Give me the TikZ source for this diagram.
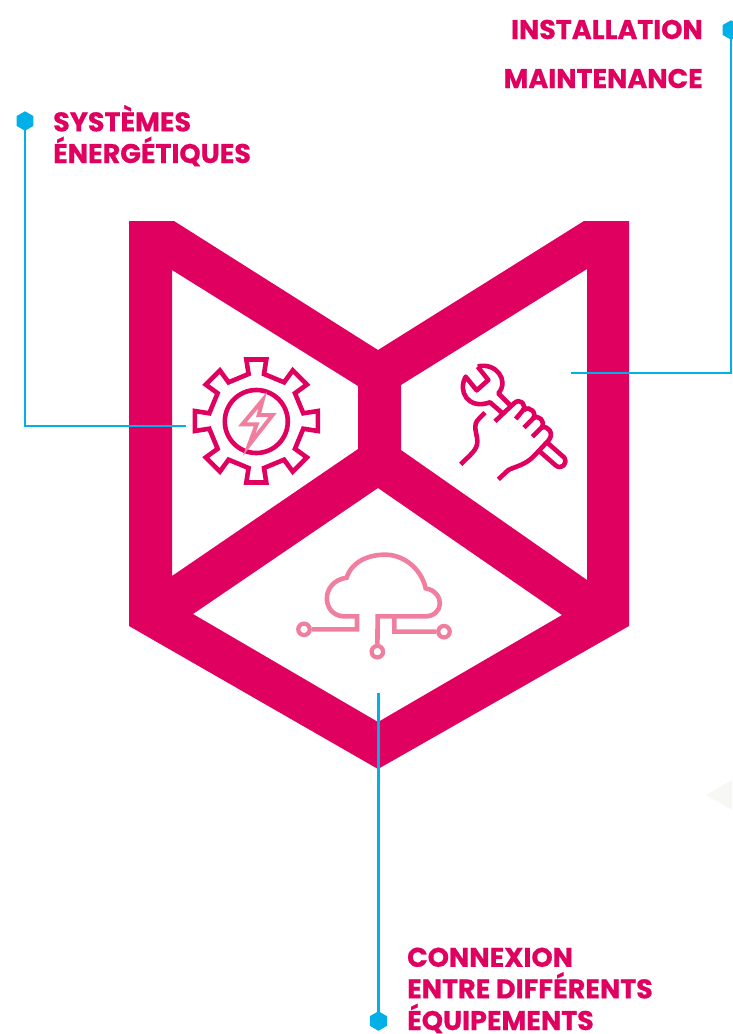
\documentclass[tikz,border=0pt]{standalone}
\usepackage{fontspec}
\setmainfont{Poppins}[BoldFont={Poppins Bold},BoldFeatures={FakeBold=0.6}]
\usetikzlibrary{shapes.geometric}
\definecolor{pinkmain}{HTML}{E0005F}
\definecolor{pinklight}{HTML}{F07F9F}
\definecolor{cyanline}{HTML}{00B0E6}
\definecolor{greytri}{HTML}{F7F7F3}
\tikzset{
  lbl/.style={inner sep=0pt,text=pinkmain,font=\fontsize{27}{31.6}\selectfont\bfseries},
  hexdot/.style={regular polygon,regular polygon sides=6,shape border rotate=30,fill=cyanline,draw=none,minimum size=19.5pt,inner sep=0pt},
  link/.style={draw=cyanline,line width=2.6pt},
  iconmain/.style={draw=pinkmain,line width=4.6pt,line join=miter},
  iconlight/.style={draw=pinklight,line width=4.6pt,line join=miter},
  dotlight/.style={circle,draw=pinklight,line width=4.2pt,fill=white,minimum size=11.5pt,inner sep=0pt},
}
\begin{document}
\begin{tikzpicture}[x=1pt,y=-1pt]
\useasboundingbox (0,0) rectangle (732,1034);
% faint triangle
\fill[greytri] (706,795) -- (732,780) -- (732,810) -- cycle;
% shield
\fill[pinkmain,even odd rule]
  (129,221) -- (174,221) -- (378,350) -- (584,221) -- (629,221) -- (629,626) -- (378,769) -- (129,626) -- cycle
  (172,270) -- (358,386) -- (358,449) -- (172,576) -- cycle
  (587,269) -- (587,580) -- (401,450) -- (401,385) -- cycle
  (378,488) -- (562,615) -- (378,722) -- (193,614) -- cycle;
% connector anchors
\node[hexdot] (hexL) at (25,121) {};
\node[hexdot] (hexR) at (731,30) {};
\node[hexdot] (hexB) at (378.4,1021) {};
\coordinate (gearEnd) at (186,426);
\coordinate (wrenchEnd) at (571,373);
\coordinate (cloudEnd) at (378.4,693);
\draw[link] (hexL.center) |- (gearEnd);
\draw[link] (hexR.center) |- (wrenchEnd);
\draw[link] (hexB.center) -- (cloudEnd);
% labels
\node[lbl,anchor=base west,align=left] (sys) at (53,163) {SYSTÈMES\\ÉNERGÉTIQUES};
\node[lbl,anchor=base east] (inst) at (703,39) {INSTALLATION};
\node[lbl,anchor=base east] (maint) at (703,88) {MAINTENANCE};
\node[lbl,anchor=base west,align=left] (conn) at (407,1030) {CONNEXION\\ENTRE DIFFÉRENTS\\ÉQUIPEMENTS};
% gear icon
\begin{scope}[shift={(256.3,421)}]
  \draw[iconmain] (-10,-61.5)
    \foreach \a in {0,45,...,315}{
      -- ({-10*cos(\a)+61.5*sin(\a)},{-10*sin(\a)-61.5*cos(\a)})
      -- ({10*cos(\a)+61.5*sin(\a)},{10*sin(\a)-61.5*cos(\a)})
      -- ({7.7*cos(\a)+47*sin(\a)},{7.7*sin(\a)-47*cos(\a)})
      -- ({-7.7*cos(\a+45)+47*sin(\a+45)},{-7.7*sin(\a+45)-47*cos(\a+45)})
    } -- cycle;
  \draw[iconmain] (0,0.5) circle (31.5);
\end{scope}
\begin{scope}[shift={(180,345)},scale=1/3]
  \draw[iconlight,line width=4pt] (248,165) -- (187,238) -- (230,238) -- (207,300) -- (278,210) -- (236,210) -- cycle;
\end{scope}
% wrench and hand icon
\begin{scope}[shift={(440,350)},scale=1/3,line cap=butt]
  \draw[iconmain,line join=round] (113,50) -- (145,90) -- (110,121) -- (77,80)
    .. controls (52,125) and (85,180) .. (150,157) -- (188,190);
  \draw[iconmain,line join=round] (113,50) .. controls (165,35) and (210,90) .. (175,130) -- (212,167);
  \draw[iconmain,line join=round] (165,214) -- (222,160) .. controls (240,142) and (262,165) .. (248,182) -- (227,207);
  \draw[iconmain,line join=round] (252,180) .. controls (268,165) and (295,190) .. (277,208) -- (252,233);
  \draw[iconmain,line join=round] (280,205) .. controls (295,192) and (318,215) .. (305,232) -- (277,260);
  \draw[iconmain,line join=round] (305,232) .. controls (322,225) and (345,250) .. (325,272)
    -- (280,320) .. controls (255,345) and (225,350) .. (205,360) -- (175,388);
  \draw[iconmain,line join=round] (322,278) -- (372,322) .. controls (385,340) and (365,360) .. (348,347) -- (300,305);
  \draw[iconmain,line join=round] (135,188) -- (118,205) .. controls (95,225) and (112,250) .. (112,275)
    .. controls (112,300) and (90,315) .. (62,343);
\end{scope}
% cloud icon
\begin{scope}[shift={(285,540)},scale=1/3]
  \node[dotlight] (dotA) at (57,268) {};
  \node[dotlight] (dotB) at (277,335) {};
  \node[dotlight] (dotC) at (477,275) {};
  \draw[iconlight] (dotA) -- (216,268) -- (216,229) -- (175,229)
    .. controls (110,225) and (105,125) .. (185,113)
    .. controls (200,65) and (250,44) .. (300,44)
    .. controls (360,44) and (410,90) .. (422,145)
    .. controls (480,155) and (480,232) .. (415,229) -- (278,229) -- (dotB);
  \draw[iconlight] (328,229) -- (328,275) -- (dotC);
\end{scope}
\end{tikzpicture}
\end{document}
